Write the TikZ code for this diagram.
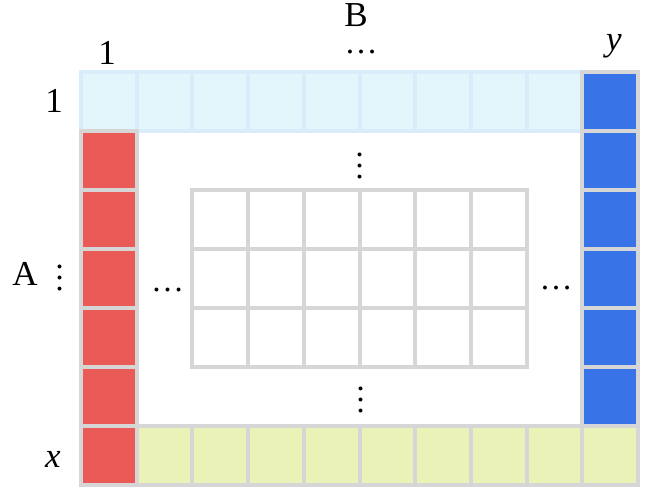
\documentclass[tikz,border=0pt]{standalone}
\usepackage{fontspec}
\setmainfont{Liberation Serif}
\definecolor{lbfill}{HTML}{E3F6FC}
\definecolor{lbline}{HTML}{D8ECFA}
\definecolor{redfill}{HTML}{EA5B57}
\definecolor{bluefill}{HTML}{3873E8}
\definecolor{yelfill}{HTML}{EAF2B8}
\definecolor{gridgray}{HTML}{D6D6D6}
\begin{document}
\begin{tikzpicture}[x=1pt,y=-1pt,
  lbl/.style={font=\fontsize{35}{40}\selectfont, inner sep=0pt},
  dotsh/.style={font=\fontsize{33}{38}\selectfont, inner sep=0pt},
  dotsv/.style={font=\fontsize{33}{38}\selectfont, inner sep=0pt, rotate=90},
  lbcell/.style={fill=lbfill, draw=lbline, line width=4pt},
  redcell/.style={fill=redfill, draw=gridgray, line width=4pt},
  bluecell/.style={fill=bluefill, draw=gridgray, line width=4pt},
  yelcell/.style={fill=yelfill, draw=gridgray, line width=4pt},
  inner/.style={draw=gridgray, line width=4pt}]
\useasboundingbox (0,0) rectangle (647,489);
\def\cw{55.7}
\def\ch{58.93}
\def\mycell#1#2#3{\draw[#3] ({81+#1*\cw},{72+#2*\ch}) rectangle ++(\cw,\ch);}
% top light blue row
\foreach \i in {0,...,8} {\mycell{\i}{0}{lbcell}}
% inner grid
\foreach \i in {2,...,7} {\foreach \j in {2,3,4} {\mycell{\i}{\j}{inner}}}
% red column
\foreach \j in {1,...,6} {\mycell{0}{\j}{redcell}}
% yellow row
\foreach \i in {1,...,9} {\mycell{\i}{6}{yelcell}}
% blue column
\foreach \j in {0,...,5} {\mycell{9}{\j}{bluecell}}
% labels
\node[lbl] (colone) at (107,52.5) {1};
\node[lbl] (rowone) at (54,101) {1};
\node[lbl] (labB) at (356,15) {B};
\node[dotsh] (topdots) at (361,52) {…};
\node[lbl] (laby) at (614,46) {\textit{y}};
\node[lbl] (labA) at (25,274) {A};
\node[dotsv] (adots) at (60,277.5) {…};
\node[lbl] (labx) at (53,459) {\textit{x}};
\node[dotsh] (leftdots) at (167.7,290) {…};
\node[dotsh] (rightdots) at (556,288) {…};
\node[dotsv] (updots) at (360,165.7) {…};
\node[dotsv] (downdots) at (361,399.7) {…};
\end{tikzpicture}
\end{document}
